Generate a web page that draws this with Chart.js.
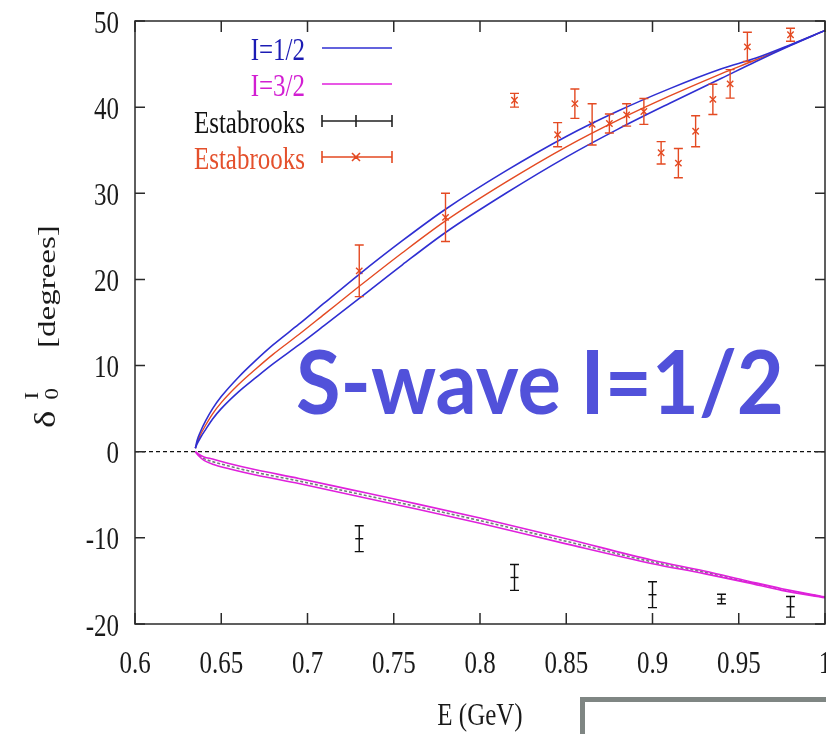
<!DOCTYPE html>
<html>
<head>
<meta charset="utf-8">
<script src="https://cdn.jsdelivr.net/npm/chart.js@4/dist/chart.umd.min.js"></script>
<style>
  html, body { margin: 0; padding: 0; background: #fff; overflow: hidden; }
  #wrap { width: 860px; height: 734px; }
</style>
</head>
<body>
<div id="wrap"><canvas id="phase-chart" width="860" height="734"></canvas></div>
<script>
// energy grid of the I=1/2 fit band (GeV)
const energyHalf = [0.635, 0.636, 0.638, 0.641, 0.645, 0.65, 0.66, 0.67, 0.68, 0.695, 0.71, 0.73, 0.755, 0.78, 0.815, 0.85, 0.88, 0.91, 0.94, 0.96, 0.98, 1.0];
const halfCentral = [0.4, 1.1, 2.0, 3.1, 4.4, 5.7, 7.8, 9.6, 11.3, 13.6, 16.0, 19.2, 23.1, 26.8, 31.3, 35.4, 38.5, 41.3, 43.9, 45.5, 47.2, 48.9];
const halfUpper = [0.4, 1.3, 2.35, 3.6, 5.0, 6.4, 8.65, 10.6, 12.4, 14.8, 17.3, 20.6, 24.5, 28.15, 32.6, 36.6, 39.55, 42.15, 44.45, 45.7, 47.25, 48.9];
const halfLower = [0.4, 0.9, 1.65, 2.6, 3.8, 5.0, 6.95, 8.6, 10.2, 12.4, 14.7, 17.8, 21.7, 25.45, 30.0, 34.2, 37.45, 40.45, 43.35, 45.3, 47.15, 48.9];

// energy grid of the I=3/2 fit band (GeV)
const energyThree = [0.635, 0.637, 0.64, 0.645, 0.655, 0.67, 0.695, 0.725, 0.755, 0.8, 0.85, 0.9, 0.93, 0.955, 0.975, 1.0];
const threeCentral = [0, -0.4, -0.8, -1.15, -1.7, -2.4, -3.4, -4.7, -6.0, -8.0, -10.4, -12.8, -14.0, -15.1, -16.0, -16.9];
const threeUpper = [0, -0.3, -0.6, -0.85, -1.4, -2.1, -3.1, -4.4, -5.7, -7.7, -10.1, -12.6, -13.85, -15.0, -15.9, -16.85];
const threeLower = [0, -0.5, -1.0, -1.45, -2.0, -2.7, -3.7, -5.0, -6.3, -8.3, -10.7, -13.0, -14.15, -15.2, -16.1, -16.95];

// Estabrooks data, I=1/2
const estHalfE = [0.73, 0.78, 0.82, 0.845, 0.855, 0.865, 0.875, 0.885, 0.895, 0.905, 0.915, 0.925, 0.935, 0.945, 0.955, 0.98];
const estHalfDelta = [21.0, 27.2, 40.8, 36.8, 40.4, 38.0, 38.1, 39.1, 39.5, 34.7, 33.5, 37.2, 40.9, 42.7, 47.0, 48.4];
const estHalfErr = [3.0, 2.8, 0.8, 1.4, 1.7, 2.4, 1.1, 1.3, 1.5, 1.3, 1.7, 1.8, 1.75, 1.65, 1.7, 0.75];

// Estabrooks data, I=3/2
const estThreeE = [0.73, 0.82, 0.9, 0.94, 0.98];
const estThreeDelta = [-10.1, -14.6, -16.6, -17.1, -18.0];
const estThreeErr = [1.5, 1.5, 1.5, 0.55, 1.2];

// tick labels
const xTicks = ['0.6', '0.65', '0.7', '0.75', '0.8', '0.85', '0.9', '0.95', '1'];
const yTicks = ['-20', '-10', '0', '10', '20', '30', '40', '50'];

const BLUE = '#2f2fd2';
const RED = '#e44a22';
const MAGENTA = '#e020dc';
const SERIF = '"Liberation Serif", "Times New Roman", serif';
const STRETCH = 1.27; // the original figure is stretched vertically

const pts = (xs, ys) => xs.map((x, i) => ({ x: x, y: ys[i] }));

function curve(xs, ys, color, extra) {
  return Object.assign({
    data: pts(xs, ys),
    borderColor: color,
    borderWidth: 1.6,
    pointRadius: 0,
    cubicInterpolationMode: 'monotone',
    fill: false,
  }, extra || {});
}

// draws text with the vertical stretch of the figure
function stretchText(ctx, txt, x, y, align) {
  ctx.save();
  ctx.translate(x, y);
  ctx.scale(1, STRETCH);
  ctx.textAlign = align;
  ctx.textBaseline = 'alphabetic';
  ctx.fillText(txt, 0, 0);
  ctx.restore();
}

const errorBars = {
  id: 'errorBars',
  afterDatasetsDraw(chart) {
    const { ctx, scales: { x, y } } = chart;
    chart.data.datasets.forEach(ds => {
      if (!ds.errors) return;
      ctx.save();
      ctx.strokeStyle = ds.borderColor;
      ctx.lineWidth = 1.4;
      ds.data.forEach((p, i) => {
        const px = x.getPixelForValue(p.x);
        const top = y.getPixelForValue(p.y + ds.errors[i]);
        const bot = y.getPixelForValue(p.y - ds.errors[i]);
        ctx.beginPath();
        ctx.moveTo(px, top); ctx.lineTo(px, bot);
        ctx.moveTo(px - 4.5, top); ctx.lineTo(px + 4.5, top);
        ctx.moveTo(px - 4.5, bot); ctx.lineTo(px + 4.5, bot);
        ctx.stroke();
      });
      ctx.restore();
    });
  },
};

const frame = {
  id: 'frame',
  afterDraw(chart) {
    const { ctx, chartArea: a, scales: { x, y } } = chart;
    ctx.save();
    ctx.strokeStyle = '#2a2a2a';
    ctx.lineWidth = 1.5;
    ctx.strokeRect(a.left, a.top, a.right - a.left, a.bottom - a.top);

    // inward ticks on all four sides
    ctx.beginPath();
    x.ticks.forEach(t => {
      const px = x.getPixelForValue(t.value);
      ctx.moveTo(px, a.bottom); ctx.lineTo(px, a.bottom - 11);
      ctx.moveTo(px, a.top); ctx.lineTo(px, a.top + 11);
    });
    y.ticks.forEach(t => {
      const py = y.getPixelForValue(t.value);
      ctx.moveTo(a.left, py); ctx.lineTo(a.left + 10, py);
      ctx.moveTo(a.right, py); ctx.lineTo(a.right - 10, py);
    });
    ctx.stroke();

    // tick labels
    ctx.fillStyle = '#1a1a1a';
    ctx.font = '25px ' + SERIF;
    x.ticks.forEach((t, i) => {
      stretchText(ctx, xTicks[i], x.getPixelForValue(t.value), 673, 'center');
    });
    y.ticks.forEach((t, i) => {
      stretchText(ctx, yTicks[i], 119, y.getPixelForValue(t.value) + 11.5, 'right');
    });

    // x title
    stretchText(ctx, 'E (GeV)', (a.left + a.right) / 2, 725, 'center');

    // y title: delta with sub 0 and sup I, then [degrees]
    ctx.save();
    ctx.translate(55, 428);
    ctx.rotate(-Math.PI / 2);
    ctx.scale(STRETCH, 1);
    ctx.textBaseline = 'alphabetic';
    ctx.font = '29px ' + SERIF;
    ctx.fillText('\u03b4', 0, 0);
    ctx.font = '18px ' + SERIF;
    ctx.fillText('I', 22.5, -17);
    ctx.fillText('0', 22.5, 3);
    ctx.font = '26px ' + SERIF;
    ctx.fillText('[degrees]', 63, 0);
    ctx.restore();

    // key
    const keys = [
      { text: 'I=1/2', color: '#1c1cb4', line: BLUE, kind: 'line' },
      { text: 'I=3/2', color: '#d21ed2', line: MAGENTA, kind: 'line' },
      { text: 'Estabrooks', color: '#111', line: '#222', kind: 'bar' },
      { text: 'Estabrooks', color: '#e4502c', line: RED, kind: 'cross' },
    ];
    const rowY = [48, 84, 121, 157];
    ctx.font = '25px ' + SERIF;
    keys.forEach((k, i) => {
      const ry = rowY[i];
      ctx.fillStyle = k.color;
      stretchText(ctx, k.text, 305, ry + 11.5, 'right');
      ctx.strokeStyle = k.line;
      ctx.lineWidth = 1.6;
      ctx.beginPath();
      ctx.moveTo(322, ry); ctx.lineTo(392, ry);
      if (k.kind !== 'line') {
        ctx.moveTo(322, ry - 6); ctx.lineTo(322, ry + 6);
        ctx.moveTo(392, ry - 6); ctx.lineTo(392, ry + 6);
      }
      if (k.kind === 'bar') {
        ctx.moveTo(356, ry - 6); ctx.lineTo(356, ry + 6);
      }
      if (k.kind === 'cross') {
        ctx.moveTo(352, ry - 4); ctx.lineTo(360, ry + 4);
        ctx.moveTo(352, ry + 4); ctx.lineTo(360, ry - 4);
      }
      ctx.stroke();
    });

    // slide overlay: big caption
    ctx.fillStyle = '#5151da';
    ctx.font = 'bold 88px Lato, "Open Sans", sans-serif';
    const cap = 'S-wave I=1/2';
    const w = ctx.measureText(cap).width;
    ctx.save();
    ctx.translate(296, 414);
    ctx.scale(488 / w, 1);
    ctx.textAlign = 'left';
    ctx.fillText(cap, 0, 0);
    ctx.restore();

    // slide overlay: grey frame at the bottom right
    ctx.strokeStyle = '#7f8683';
    ctx.lineWidth = 5;
    ctx.strokeRect(582.5, 699.5, 400, 100);
    ctx.restore();
  },
};

const config = {
  type: 'line',
  data: {
    datasets: [
      curve(energyHalf, halfUpper, BLUE),
      curve(energyHalf, halfLower, BLUE),
      curve(energyHalf, halfCentral, RED, { borderWidth: 1.4 }),
      curve(energyThree, threeUpper, MAGENTA, { borderWidth: 1.6 }),
      curve(energyThree, threeLower, MAGENTA, { borderWidth: 1.6 }),
      curve(energyThree, threeCentral, '#6f8078', { borderWidth: 1.6, borderDash: [3, 2] }),
      {
        // zero line
        data: [{ x: 0.6, y: 0 }, { x: 1.0, y: 0 }],
        borderColor: '#111',
        borderWidth: 1.2,
        borderDash: [4, 3],
        pointRadius: 0,
      },
      {
        data: pts(estHalfE, estHalfDelta),
        errors: estHalfErr,
        showLine: false,
        borderColor: RED,
        pointStyle: 'crossRot',
        pointRadius: 4.5,
        pointBorderWidth: 1.4,
      },
      {
        data: pts(estThreeE, estThreeDelta),
        errors: estThreeErr,
        showLine: false,
        borderColor: '#111',
        pointStyle: 'line',
        pointRadius: 4,
        pointBorderWidth: 1.4,
      },
    ],
  },
  options: {
    responsive: false,
    animation: false,
    events: [],
    layout: { padding: { top: 21, right: 35, left: 0, bottom: 0 } },
    plugins: { legend: { display: false }, tooltip: { enabled: false } },
    scales: {
      x: {
        type: 'linear',
        min: 0.6,
        max: 1.0,
        ticks: { display: false, stepSize: 0.05 },
        grid: { display: false },
        border: { display: false },
        afterFit(scale) {
          scale.height = 110;
          scale.paddingLeft = 0;
          scale.paddingRight = 0;
        },
      },
      y: {
        type: 'linear',
        min: -20,
        max: 50,
        ticks: { display: false, stepSize: 10 },
        grid: { display: false },
        border: { display: false },
        afterFit(scale) {
          scale.width = 135;
          scale.paddingTop = 0;
          scale.paddingBottom = 0;
        },
      },
    },
  },
  plugins: [errorBars, frame],
};

const chart = new Chart(document.querySelector('#phase-chart'), config);
</script>
</body>
</html>
